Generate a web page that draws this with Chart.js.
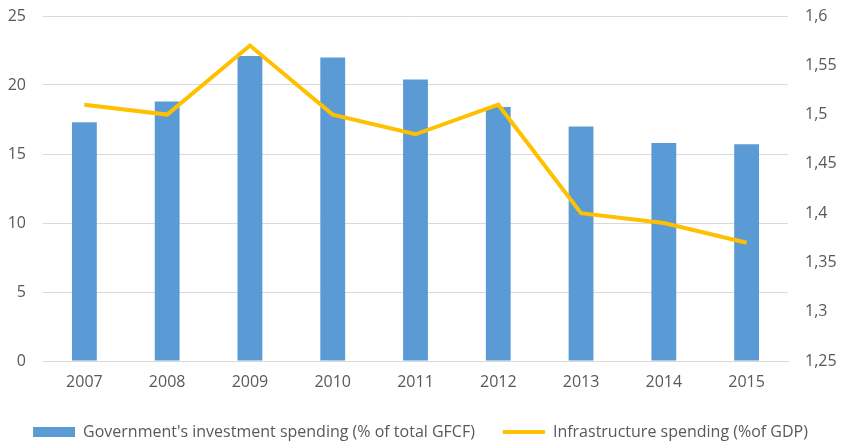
<!DOCTYPE html>
<html>
<head>
<meta charset="utf-8">
<script src="https://cdn.jsdelivr.net/npm/chart.js@4/dist/chart.umd.min.js"></script>
<style>
    html, body { margin: 0; padding: 0; background: #fff; }
</style>
</head>
<body>
<canvas id="chart" width="841" height="442"></canvas>
<script>
const years = ['2007', '2008', '2009', '2010', '2011', '2012', '2013', '2014', '2015']
const investmentSpending = [17.3, 18.8, 22.1, 22.0, 20.4, 18.4, 17.0, 15.8, 15.7]
const infrastructureSpending = [1.51, 1.50, 1.57, 1.50, 1.48, 1.51, 1.40, 1.39, 1.37]
const leftTicks = [0, 5, 10, 15, 20, 25]
const rightTicks = [1.25, 1.3, 1.35, 1.4, 1.45, 1.5, 1.55, 1.6]

const textColor = '#595959'
const gridColor = '#d9d9d9'
const font = { family: '"Open Sans", sans-serif', size: 16 }

function commaNumber(value) {
    return String(Math.round(value * 100) / 100).replace('.', ',')
}

// fixed axis sizes so the plot area sits where the original one does
function fitSide(width) {
    return axis => {
        axis.width = width
        axis.paddingTop = 16
        axis.paddingBottom = 0
    }
}

const barDataset = {
    type: 'bar',
    label: "Government's investment spending (% of total GFCF)",
    data: investmentSpending,
    backgroundColor: '#5b9bd5',
    borderWidth: 0,
    barPercentage: 0.3,
    categoryPercentage: 1,
    yAxisID: 'y',
    pointStyle: 'rect',
    order: 2
}

const lineDataset = {
    type: 'line',
    label: 'Infrastructure spending (%of GDP)',
    data: infrastructureSpending,
    borderColor: '#ffc000',
    backgroundColor: '#ffc000',
    borderWidth: 4,
    pointRadius: 0,
    tension: 0,
    yAxisID: 'y1',
    pointStyle: 'line',
    order: 1
}

const chartOptions = {
    data: {
        labels: years,
        datasets: [barDataset, lineDataset]
    },
    options: {
        responsive: false,
        animation: false,
        layout: { padding: { left: 0, right: 0, top: 0, bottom: -8 } },
        plugins: {
            tooltip: { enabled: false },
            legend: {
                position: 'bottom',
                labels: {
                    color: textColor,
                    font: font,
                    usePointStyle: true,
                    pointStyleWidth: 42,
                    boxWidth: 42,
                    boxHeight: 10,
                    padding: 28,
                    sort: (a, b) => a.datasetIndex - b.datasetIndex
                }
            }
        },
        scales: {
            x: {
                grid: { display: false, drawTicks: false },
                border: { display: true, color: gridColor },
                ticks: { color: textColor, font: font, padding: 12 },
                afterFit: axis => { axis.height = 35 }
            },
            y: {
                position: 'left',
                min: 0,
                max: 25,
                afterBuildTicks: axis => { axis.ticks = leftTicks.map(v => ({ value: v })) },
                grid: { color: gridColor, drawTicks: false },
                border: { display: false },
                ticks: { color: textColor, font: font, padding: 17 },
                afterFit: fitSide(43)
            },
            y1: {
                position: 'right',
                min: 1.25,
                max: 1.6,
                afterBuildTicks: axis => { axis.ticks = rightTicks.map(v => ({ value: v })) },
                grid: { display: false, drawTicks: false },
                border: { display: false },
                ticks: { color: textColor, font: font, padding: 17, callback: v => commaNumber(v) },
                afterFit: fitSide(53)
            }
        }
    }
}

new Chart(document.getElementById('chart'), chartOptions)
</script>
</body>
</html>
